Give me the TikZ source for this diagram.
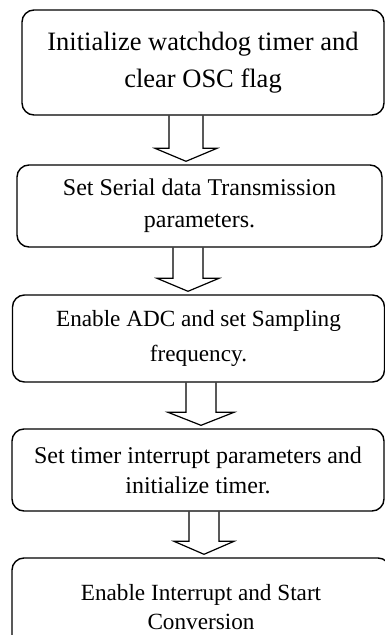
\documentclass[tikz,border=0pt]{standalone}
\usepackage{fontspec}
\setmainfont{Liberation Serif}
\usepackage{tikz}
\usetikzlibrary{calc}

% hollow block arrow: from node, to node, centre x, shaft half width, head half width
\newcommand{\flowarrow}[5]{%
  \draw[blk] let \p1=(#1.south), \p2=(#2.north) in
    (#3pt-#4pt,\y1) -- (#3pt-#4pt,\y2+16pt) -- (#3pt-#5pt,\y2+16pt) -- (#3pt,\y2+3pt)
    -- (#3pt+#5pt,\y2+16pt) -- (#3pt+#4pt,\y2+16pt) -- (#3pt+#4pt,\y1);
}

\begin{document}
\begin{tikzpicture}[
        x=1pt, y=1pt,
        box/.style={draw, rounded corners=12pt, line width=1.4pt, align=center, inner sep=0pt,
                    font=\fontsize{23.5}{30}\selectfont},
        blk/.style={draw, line width=1.2pt}
    ]
        \useasboundingbox (0,0) rectangle (385,-635);

        \node[box, minimum width=362pt, minimum height=105pt, font=\fontsize{26.5}{37}\selectfont]
            (init) at (203,-62.5) {Initialize watchdog timer and\\clear OSC flag};
        \node[box, minimum width=365pt, minimum height=82pt, font=\fontsize{24}{32}\selectfont]
            (serial) at (199.5,-206) {Set Serial data Transmission\\parameters.};
        \node[box, minimum width=372pt, minimum height=87pt, font=\fontsize{23.2}{35}\selectfont]
            (adc) at (198.5,-338.5) {Enable ADC and set Sampling\\frequency.};
        \node[box, minimum width=372pt, minimum height=82pt, font=\fontsize{24}{30}\selectfont]
            (tmr) at (198,-470) {Set timer interrupt parameters and\\initialize timer.};
        \node[box, minimum width=378pt, minimum height=98pt, font=\fontsize{23.2}{29}\selectfont]
            (conv) at (201,-607) {Enable Interrupt and Start\\Conversion};

        \flowarrow{init}{serial}{186}{17}{31}
        \flowarrow{serial}{adc}{188}{15}{31}
        \flowarrow{adc}{tmr}{201}{15}{33}
        \flowarrow{tmr}{conv}{204}{15}{30}
    \end{tikzpicture}
\end{document}
